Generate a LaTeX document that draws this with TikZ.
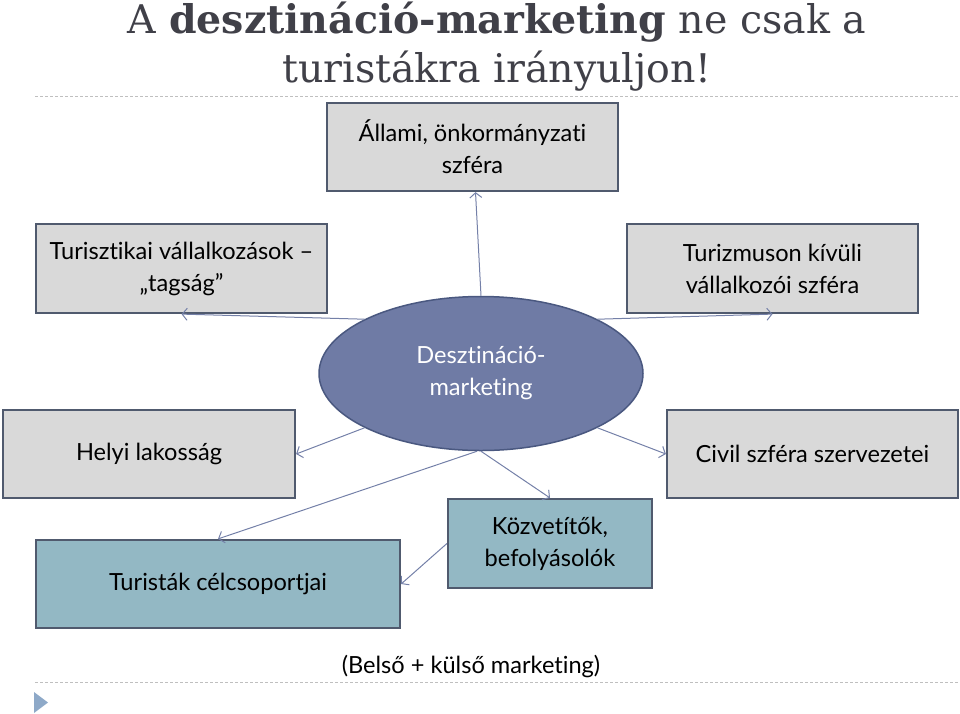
\documentclass[tikz,border=0pt]{standalone}
\usepackage{fontspec}
\setmainfont{Lato}[Ligatures=NoCommon]
\newfontfamily\titlef{DejaVu Serif}
\usetikzlibrary{arrows.meta,shapes.geometric}
\definecolor{boxgray}{HTML}{D9D9D9}
\definecolor{boxline}{HTML}{505A6E}
\definecolor{ellfill}{HTML}{6F7BA5}
\definecolor{ellline}{HTML}{4A5880}
\definecolor{tealfill}{HTML}{93B8C4}
\definecolor{arrowc}{HTML}{7480A8}
\definecolor{titlec}{HTML}{404048}
\definecolor{dashc}{HTML}{BFBFBF}
\definecolor{trianc}{HTML}{8EA9C8}
\tikzset{
  bodyfont/.style={font=\fontsize{23.6}{32}\selectfont},
  graybox/.style={draw=boxline, line width=2.2pt, fill=boxgray, inner sep=0pt, align=center, bodyfont},
  tealbox/.style={graybox, fill=tealfill},
  conn/.style={draw=arrowc, line width=1pt, -{Straight Barb[length=5pt,width=12pt]}},
  sepline/.style={draw=dashc, line width=1pt, dash pattern=on 3pt off 2pt},
  titletext/.style={anchor=base, font=\titlef\fontsize{39.5}{48}\selectfont, text=titlec, inner sep=0pt},
}
\begin{document}
\begin{tikzpicture}[x=1pt,y=-1pt]
\useasboundingbox (0,0) rectangle (960,713);
% title
\node[titletext] (t1) at (497,33) {A \textbf{desztináció-marketing} ne csak a};
\node[titletext] (t2) at (497,82) {turistákra irányuljon!};
% separators
\coordinate (s1a) at (35,96); \coordinate (s1b) at (960,96);
\coordinate (s2a) at (35,682); \coordinate (s2b) at (960,682);
\draw[sepline] (s1a) -- (s1b);
\draw[sepline] (s2a) -- (s2b);
\fill[trianc] (34,692) -- (48,702.5) -- (34,713) -- cycle;
% boxes
\node[graybox, minimum width=291pt, minimum height=88pt] (top) at (472.5,147) {Állami, önkormányzati\\szféra};
\node[graybox, minimum width=291pt, minimum height=89pt] (tv) at (181.5,268.5) {Turisztikai vállalkozások –\\„tagság”};
\node[graybox, minimum width=291pt, minimum height=89pt] (tk) at (772.5,268.5) {Turizmuson kívüli\\vállalkozói szféra};
\node[graybox, minimum width=292pt, minimum height=88pt] (hl) at (149,454) {Helyi lakosság};
\node[graybox, minimum width=291pt, minimum height=88pt] (cv) at (812.5,454) {Civil szféra szervezetei};
\node[tealbox, minimum width=364pt, minimum height=88pt] (tc) at (218,584) {Turisták célcsoportjai};
\node[tealbox, minimum width=204pt, minimum height=89pt] (kz) at (550,543.5) {Közvetítők,\\befolyásolók};
% ellipse
\node[ellipse, draw=ellline, line width=1.5pt, fill=ellfill, minimum width=324pt, minimum height=154pt, inner sep=0pt, align=center, text=white, bodyfont] (dm) at (481,373.5) {Desztináció-\\marketing};
% connectors
\draw[conn] (dm.north) -- ([xshift=3pt]top.south);
\draw[conn] (dm.155) -- (tv.south);
\draw[conn] (dm.25) -- (tk.south);
\draw[conn] (dm.205) -- (hl.east);
\draw[conn] (dm.335) -- (cv.west);
\draw[conn] (dm.south) -- (kz.north);
\draw[conn] ([xshift=-4pt]dm.south) -- (tc.north);
\draw[conn] (kz.west) -- (tc.east);
% footer
\node[bodyfont, inner sep=0pt] (ft) at (471,666) {(Belső + külső marketing)};
\end{tikzpicture}
\end{document}
